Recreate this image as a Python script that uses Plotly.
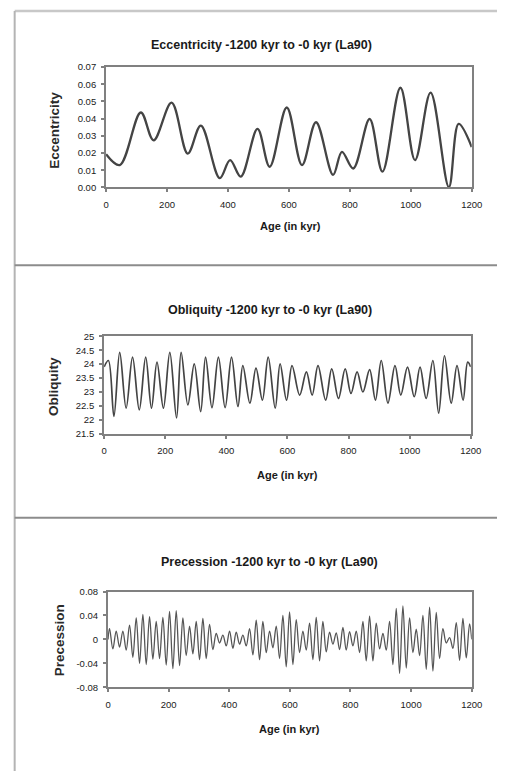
import plotly.graph_objects as go

W, H = 508, 776

# ---------------- data ----------------
ecc_age = [0, 45, 114, 156, 215, 268, 311, 373, 407, 442, 497, 537, 593, 643, 689,
           745, 774, 811, 865, 907, 966, 1014, 1065, 1125, 1157, 1200]
ecc_val = [0.0193, 0.0130, 0.0436, 0.0274, 0.0493, 0.0197, 0.0360, 0.0054, 0.0159,
           0.0063, 0.0340, 0.0120, 0.0465, 0.0130, 0.0379, 0.0073, 0.0207, 0.0110,
           0.0398, 0.0092, 0.0580, 0.0159, 0.0551, 0.0002, 0.0369, 0.0235]

obl_age = [0, 14, 32, 51, 72, 93, 115, 136, 155, 173, 194, 215, 237, 252, 274, 295,
           316, 332, 353, 374, 396, 417, 438, 454, 477, 497, 518, 537, 560, 576, 597,
           615, 640, 662, 681, 700, 725, 745, 767, 789, 808, 828, 847, 869, 888, 907,
           929, 952, 971, 993, 1015, 1034, 1054, 1076, 1095, 1114, 1136, 1155, 1175,
           1190, 1200]
obl_val = [23.90, 24.13, 22.13, 24.42, 22.42, 24.25, 22.36, 24.25, 22.42, 24.07, 22.42,
           24.42, 22.07, 24.42, 22.54, 24.01, 22.30, 24.25, 22.44, 24.25, 22.44, 24.25,
           22.48, 23.95, 22.60, 23.86, 22.71, 24.25, 22.42, 24.01, 22.71, 23.95, 22.89,
           23.72, 22.89, 23.95, 22.71, 23.83, 22.77, 23.83, 22.95, 23.72, 23.00, 23.80,
           22.71, 24.13, 22.60, 23.95, 22.89, 23.89, 22.83, 23.89, 22.77, 24.13, 22.24,
           24.30, 22.60, 23.95, 22.71, 24.07, 23.90]

prec_age = [0, 5, 16, 27, 38, 49, 60, 71, 82, 93, 104, 115, 126, 137, 148, 159, 170,
            181, 192, 203, 214, 225, 236, 247, 258, 269, 280, 291, 302, 313, 324, 335,
            346, 357, 368, 379, 390, 401, 412, 423, 434, 445, 456, 467, 478, 489, 500,
            511, 522, 533, 544, 555, 566, 577, 588, 599, 610, 621, 632, 643, 654, 665,
            676, 687, 698, 709, 720, 731, 742, 753, 764, 775, 786, 797, 808, 819, 830,
            841, 852, 863, 874, 885, 896, 907, 918, 929, 940, 951, 962, 973, 984, 995,
            1006, 1017, 1028, 1039, 1050, 1061, 1072, 1083, 1094, 1105, 1116, 1127,
            1138, 1149, 1160, 1171, 1182, 1193, 1200]
prec_val = [0.000, 0.018, -0.016, 0.014, -0.013, 0.014, -0.018, 0.024, -0.030, 0.036,
            -0.040, 0.042, -0.042, 0.038, -0.033, 0.030, -0.032, 0.037, -0.043, 0.047,
            -0.049, 0.048, -0.044, 0.036, -0.027, 0.022, -0.024, 0.030, -0.034, 0.035,
            -0.032, 0.025, -0.017, 0.010, -0.006, 0.007, -0.011, 0.014, -0.015, 0.012,
            -0.008, 0.007, -0.011, 0.018, -0.026, 0.032, -0.034, 0.030, -0.022, 0.014,
            -0.014, 0.022, -0.032, 0.040, -0.046, 0.046, -0.042, 0.033, -0.022, 0.014,
            -0.018, 0.027, -0.034, 0.037, -0.036, 0.030, -0.021, 0.012, -0.008, 0.011,
            -0.017, 0.020, -0.018, 0.013, -0.011, 0.014, -0.022, 0.030, -0.036, 0.039,
            -0.036, 0.027, -0.016, 0.010, -0.018, 0.030, -0.042, 0.052, -0.057, 0.056,
            -0.048, 0.036, -0.022, 0.017, -0.027, 0.040, -0.050, 0.054, -0.053, 0.045,
            -0.032, 0.018, -0.006, 0.003, -0.015, 0.028, -0.035, 0.035, -0.031, 0.026,
            0.000]

x_ticks = [0, 200, 400, 600, 800, 1000, 1200]
ecc_ticks = [0.00, 0.01, 0.02, 0.03, 0.04, 0.05, 0.06, 0.07]
ecc_labels = ["0.00", "0.01", "0.02", "0.03", "0.04", "0.05", "0.06", "0.07"]
obl_ticks = [21.5, 22, 22.5, 23, 23.5, 24, 24.5, 25]
obl_labels = ["21.5", "22", "22.5", "23", "23.5", "24", "24.5", "25"]
prec_ticks = [-0.08, -0.04, 0, 0.04, 0.08]
prec_labels = ["-0.08", "-0.04", "0", "0.04", "0.08"]

titles = ["Eccentricity -1200 kyr to -0 kyr (La90)",
          "Obliquity -1200 kyr to -0 kyr (La90)",
          "Precession -1200 kyr to -0 kyr (La90)"]
y_titles = ["Eccentricity", "Obliquity", "Precession"]
x_title = "Age (in kyr)"

# ---------------- figure ----------------
FONT = "Liberation Sans, Arial, sans-serif"
LINE = "#444444"
AX = "#808080"
TXT = "#1a1a1a"

def px(x):
    return x / W

def py(y):
    return 1 - y / H

fig = go.Figure()
fig.add_trace(go.Scatter(x=ecc_age, y=ecc_val, mode="lines", xaxis="x", yaxis="y",
                         line=dict(color=LINE, width=2.3, shape="spline", smoothing=1.0),
                         showlegend=False))
fig.add_trace(go.Scatter(x=obl_age, y=obl_val, mode="lines", xaxis="x2", yaxis="y2",
                         line=dict(color=LINE, width=1.7, shape="spline", smoothing=1.0),
                         showlegend=False))
fig.add_trace(go.Scatter(x=prec_age, y=prec_val, mode="lines", xaxis="x3", yaxis="y3",
                         line=dict(color="#555555", width=1.3, shape="spline", smoothing=1.0),
                         showlegend=False))

# plot-area rectangles (pixels)
areas = [(106, 482, 62, 184), (104, 481, 335, 434), (108, 482, 594, 691)]
yspecs = [([0, 0.07], ecc_ticks, ecc_labels),
          ([21.5, 25], obl_ticks, obl_labels),
          ([-0.08, 0.08], prec_ticks, prec_labels)]

common_ax = dict(showline=True, mirror=True, linecolor=AX, linewidth=2,
                 ticks="outside", ticklen=3, tickcolor=AX, tickwidth=1.5, showgrid=False,
                 zeroline=False, tickfont=dict(family=FONT, size=9.5, color=TXT),
                 fixedrange=True)

layout = dict(width=W, height=H, margin=dict(l=0, r=0, t=0, b=0),
              paper_bgcolor="white", plot_bgcolor="white", showlegend=False)
for i, ((x0, x1, y0, y1), (yr, yt, yl)) in enumerate(zip(areas, yspecs)):
    sfx = "" if i == 0 else str(i + 1)
    layout["xaxis" + sfx] = dict(domain=[px(x0), px(x1)], anchor="y" + sfx,
                                 range=[0, 1200], tickvals=x_ticks,
                                 ticktext=[str(v) for v in x_ticks],
                                 ticklabelstandoff=4, **common_ax)
    layout["yaxis" + sfx] = dict(domain=[py(y1), py(y0)], anchor="x" + sfx,
                                 range=yr, tickvals=yt, ticktext=yl,
                                 ticklabelstandoff=3, **common_ax)
fig.update_layout(**layout)

# titles & axis titles
title_pos = [(265.5, 40), (274.5, 308), (274.5, 564)]
xt_pos = [(296, 223), (293, 476), (295, 733)]
yt_pos = [(53, 126), (52, 386), (59, 643)]
ann = []
for i in range(3):
    ann.append(dict(text="<b>%s</b>" % titles[i], x=px(title_pos[i][0]), y=py(title_pos[i][1]),
                    xref="paper", yref="paper", showarrow=False, xanchor="center",
                    yanchor="middle", font=dict(family=FONT, size=12.5, color=TXT)))
    ann.append(dict(text="<b>%s</b>" % x_title, x=px(xt_pos[i][0]), y=py(xt_pos[i][1]),
                    xref="paper", yref="paper", showarrow=False, xanchor="center",
                    yanchor="middle", font=dict(family=FONT, size=11, color=TXT)))
    ann.append(dict(text="<b>%s</b>" % y_titles[i], x=px(yt_pos[i][0]), y=py(yt_pos[i][1]),
                    xref="paper", yref="paper", showarrow=False, xanchor="center",
                    yanchor="middle", textangle=-90,
                    font=dict(family=FONT, size=13.5, color="#2a2a2a")))
fig.update_layout(annotations=ann)

# panel frames
shapes = [
    dict(type="line", xref="paper", yref="paper", x0=px(12), x1=1, y0=py(5), y1=py(5),
         line=dict(color="#c8c8c8", width=2.5)),
    dict(type="line", xref="paper", yref="paper", x0=px(12), x1=px(12), y0=py(5), y1=0,
         line=dict(color="#b4b4b4", width=2)),
    dict(type="line", xref="paper", yref="paper", x0=px(12), x1=1, y0=py(263), y1=py(263),
         line=dict(color="#8c8c8c", width=2)),
    dict(type="line", xref="paper", yref="paper", x0=px(12), x1=1, y0=py(519), y1=py(519),
         line=dict(color="#8c8c8c", width=2)),
]
fig.update_layout(shapes=shapes)

fig.write_html("out.html", config={"displayModeBar": False},
               post_script="document.body.style.margin='0';")
